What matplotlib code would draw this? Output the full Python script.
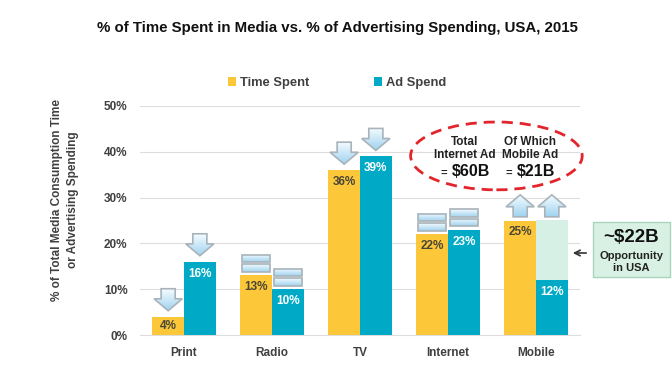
import numpy as np
import matplotlib.pyplot as plt
from matplotlib.colors import LinearSegmentedColormap
from matplotlib.patches import Polygon, Rectangle, Ellipse

plt.rcParams['font.family'] = ['Liberation Sans', 'DejaVu Sans']

# data
categories = ['Print', 'Radio', 'TV', 'Internet', 'Mobile']
time_spent = [4, 13, 36, 22, 25]
ad_spend = [16, 10, 39, 23, 12]
trend = ['down', 'flat', 'down', 'flat', 'up']   # marker drawn above each pair
y_ticks = [0, 10, 20, 30, 40, 50]

YELLOW = '#FCC83A'
TEAL = '#00A9C6'
GHOST = '#D7F0E6'
TXT = '#404040'
blues = LinearSegmentedColormap.from_list('b', ['#f4fbff', '#9fd3f0'])

fig = plt.figure(figsize=(6.72, 3.8), dpi=100)
ax = fig.add_axes([140 / 672, 1 - 335 / 380, 440 / 672, 229 / 380])

x = np.arange(len(categories))
w = 0.36
ax.bar(x - w / 2, time_spent, w, color=YELLOW, label='Time Spent', zorder=3)
ax.bar(x + w / 2, ad_spend, w, color=TEAL, label='Ad Spend', zorder=3)
# mobile gap (light green part of the ad spend bar)
ax.bar(x[-1] + w / 2, time_spent[-1] - ad_spend[-1], w, bottom=ad_spend[-1],
       color=GHOST, zorder=2)

ax.set_yticks(y_ticks)
ax.set_yticklabels([f'{t}%' for t in y_ticks])
ax.set_xticks(x)
ax.set_xticklabels(categories)
ax.tick_params(length=0, labelsize=8.5, colors=TXT, pad=9)
for lbl in ax.get_xticklabels() + ax.get_yticklabels():
    lbl.set_fontweight('bold')
ax.grid(axis='y', color='#dddddd', lw=0.8, zorder=0)
for s in ['top', 'right', 'left']:
    ax.spines[s].set_visible(False)
ax.spines['bottom'].set_color('#dddddd')

# value labels
for xi, v in zip(x, time_spent):
    y = v - 2.6 if v > 8 else v / 2
    ax.text(xi - w / 2, y, f'{v}%', ha='center', va='center', fontsize=8.5,
            fontweight='bold', color='#4a4636', zorder=5)
for xi, v in zip(x, ad_spend):
    y = v - 2.6 if v > 8 else v / 2
    ax.text(xi + w / 2, y, f'{v}%', ha='center', va='center', fontsize=8.5,
            fontweight='bold', color='white', zorder=5)


def shade(pts):
    pts = np.array(pts)
    poly = Polygon(pts, closed=True, fc='none', ec='#a9b3ba', lw=1.2, zorder=5)
    ax.add_patch(poly)
    grad = np.linspace(0, 1, 50).reshape(-1, 1)
    im = ax.imshow(grad, cmap=blues, aspect='auto', interpolation='bilinear',
                   extent=[pts[:, 0].min(), pts[:, 0].max(), pts[:, 1].min(), pts[:, 1].max()],
                   origin='upper', zorder=4)
    im.set_clip_path(poly)


def arrow(cx, b, up):
    hw, sw, h, hh = 0.16, 0.08, 4.8, 2.6
    if up:
        pts = [(cx - sw, b), (cx + sw, b), (cx + sw, b + h - hh), (cx + hw, b + h - hh),
               (cx, b + h), (cx - hw, b + h - hh), (cx - sw, b + h - hh)]
    else:
        pts = [(cx - sw, b + h), (cx + sw, b + h), (cx + sw, b + hh), (cx + hw, b + hh),
               (cx, b), (cx - hw, b + hh), (cx - sw, b + hh)]
    shade(pts)


def equals(cx, b):
    bw, bh, gap = 0.32, 1.6, 0.45
    for k in range(2):
        y0 = b + k * (bh + gap)
        shade([(cx - bw / 2, y0), (cx + bw / 2, y0), (cx + bw / 2, y0 + bh), (cx - bw / 2, y0 + bh)])


for xi, kind, ts, ad in zip(x, trend, time_spent, ad_spend):
    for cx, v in [(xi - w / 2, ts), (xi + w / 2, ad)]:
        if kind == 'down':
            arrow(cx, v + 1.3, up=False)
        elif kind == 'up':
            arrow(cx, max(ts, ad) + 0.8, up=True)
        else:
            equals(cx, v + 0.8)

ax.set_xlim(-0.5, 4.5)
ax.set_ylim(0, 50)

# red dashed ellipse with callout text
ax.add_patch(Ellipse((3.55, 39.1), 1.95, 14.8, fc='none', ec='#E3242B', lw=2,
                     ls=(0, (4, 2.5)), zorder=6, clip_on=False))
for cx, l1, l2, l3 in [(3.19, 'Total', 'Internet Ad', r'\$60B'),
                       (3.93, 'Of Which', 'Mobile Ad', r'\$21B')]:
    ax.text(cx, 42.1, l1, ha='center', va='center', fontsize=8.5, fontweight='bold', color='#222222')
    ax.text(cx, 39.3, l2, ha='center', va='center', fontsize=8.5, fontweight='bold', color='#222222')
    ax.text(cx - 0.24, 35.5, '=', ha='center', va='center', fontsize=8, fontweight='bold', color='#222222')
    ax.text(cx + 0.07, 35.6, l3, ha='center', va='center', fontsize=11.5, fontweight='bold', color='#111111')

# green opportunity box
fig.patches.append(Rectangle((593 / 672, 1 - 277 / 380), 77 / 672, 55 / 380,
                             transform=fig.transFigure, fc='#D9F1E4', ec='#a8d5bb', lw=1))
fig.text(631 / 672, 1 - 238 / 380, '~\\$22B', ha='center', va='center', fontsize=13.5,
         fontweight='bold', color='#111111')
fig.text(631 / 672, 1 - 256 / 380, 'Opportunity', ha='center', va='center', fontsize=8,
         fontweight='bold', color='#222222')
fig.text(631 / 672, 1 - 268 / 380, 'in USA', ha='center', va='center', fontsize=8,
         fontweight='bold', color='#222222')
ax.annotate('', xy=(570 / 672, 1 - 253 / 380), xytext=(589 / 672, 1 - 253 / 380),
            xycoords='figure fraction', textcoords='figure fraction',
            arrowprops=dict(arrowstyle='->', color='#333333', lw=1.2))

# titles and legend
fig.text(0.502, 1 - 28 / 380, '% of Time Spent in Media vs. % of Advertising Spending, USA, 2015',
         ha='center', va='center', fontsize=10.8, fontweight='bold', color='#111111')
fig.text(65 / 672, 1 - 200 / 380, '% of Total Media Consumption Time\nor Advertising Spending',
         ha='center', va='center', rotation=90, fontsize=8.5, fontweight='bold', color=TXT,
         multialignment='center', linespacing=1.35)
fig.legend(loc='center', bbox_to_anchor=(0.502, 1 - 83 / 380), ncol=2, frameon=False,
           handlelength=0.6, handleheight=0.6, columnspacing=5, handletextpad=0.35,
           prop={'weight': 'bold', 'size': 9.3}, labelcolor=TXT)

fig.savefig('out.png', dpi=100)
